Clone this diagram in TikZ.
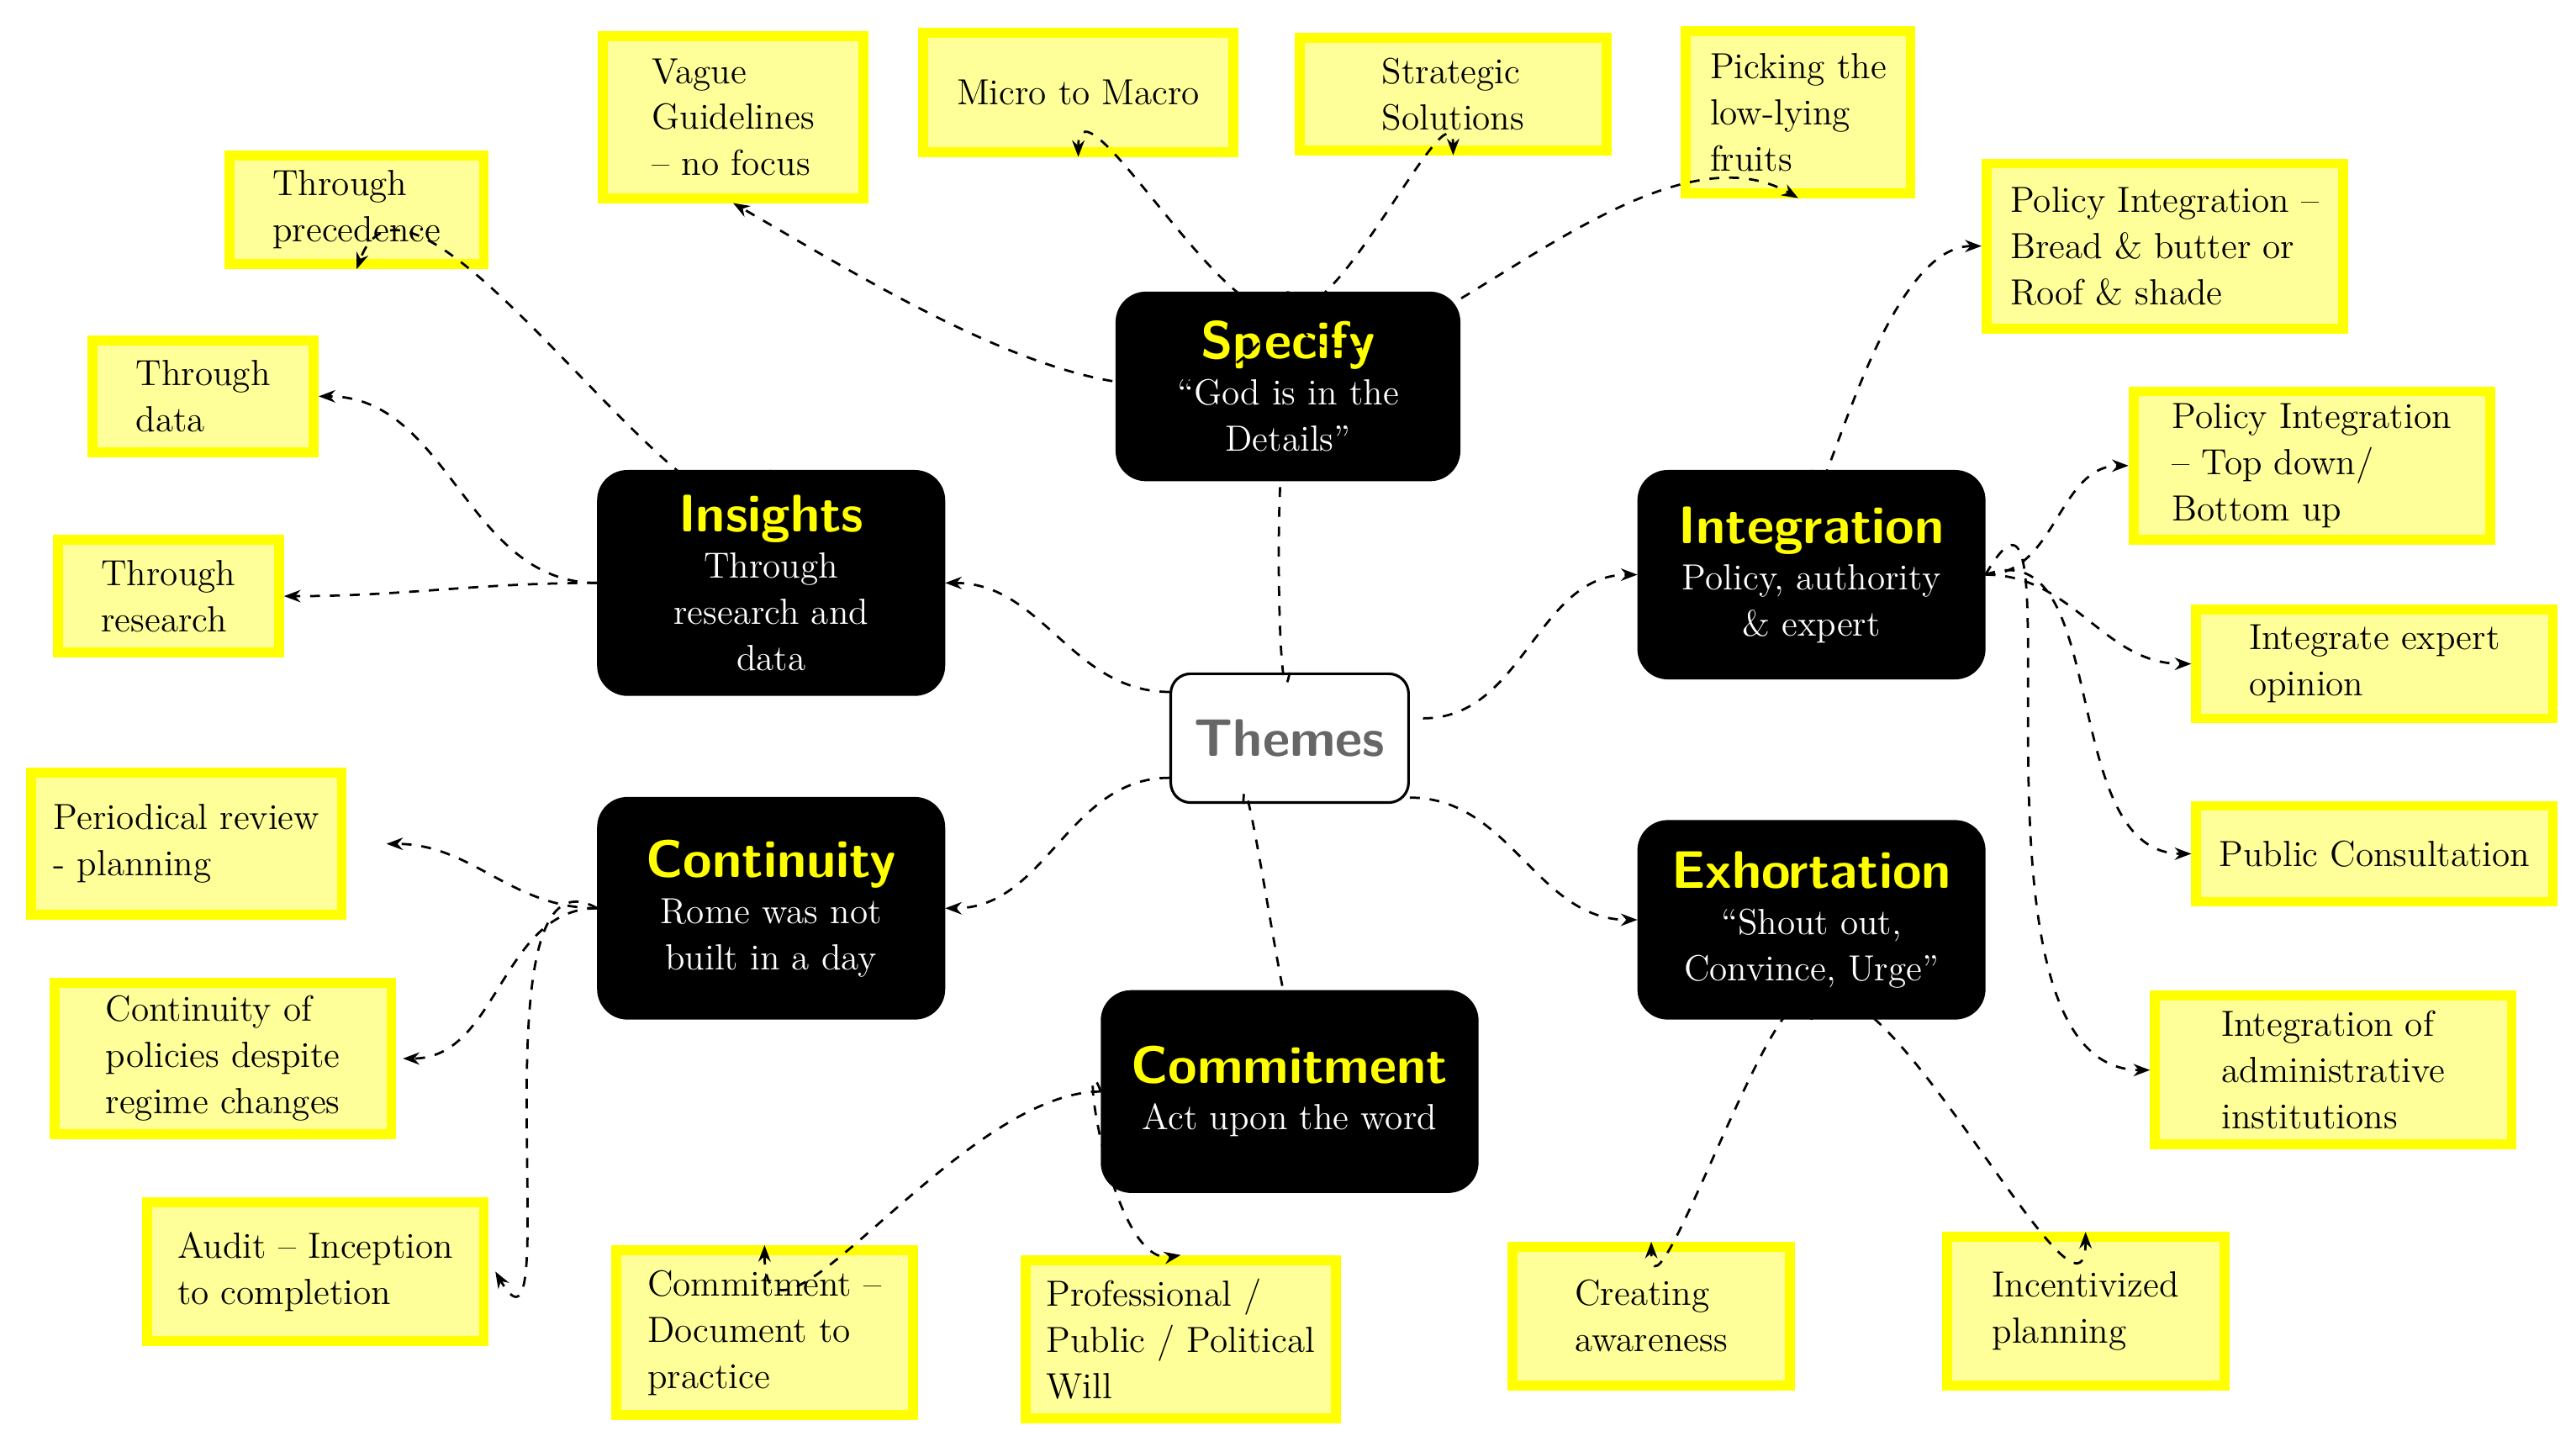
\documentclass[tikz,border=0pt]{standalone}
\usetikzlibrary{arrows.meta}
\definecolor{ylight}{HTML}{FFFF99}
\definecolor{yedge}{HTML}{FFFF00}
\tikzset{
  theme/.style={draw=black,fill=black,rounded corners=9pt,align=center,text=white,
    font=\fontsize{11}{14}\selectfont,inner sep=2pt},
  ybox/.style={draw=yedge,line width=3pt,fill=ylight,align=left,
    font=\fontsize{11}{14}\selectfont,inner sep=2pt},
  link/.style={dashed,line width=0.7pt,-{Stealth[length=5pt]}},
}
\newcommand{\ttl}[1]{{\color{yedge}\fontsize{16}{19}\selectfont\sffamily\bfseries #1}\\}
\begin{document}
\begin{tikzpicture}[x=0.5pt,y=0.5pt,yscale=-1]
\useasboundingbox (0,0) rectangle (1560,879);

% centre
\node[draw,rounded corners=6pt,line width=0.8pt,minimum width=72pt,minimum height=39pt,
  text=black!60,font=\fontsize{16}{19}\selectfont\sffamily\bfseries] (themes) at (781,447) {Themes};

% themes
\node[theme,minimum width=104pt,minimum height=57pt] (spec) at (780,234) {\ttl{Specify}``God is in the\\Details''};
\node[theme,minimum width=105pt,minimum height=68pt] (ins) at (467,353) {\ttl{Insights}Through\\research and\\data};
\node[theme,minimum width=105pt,minimum height=63pt] (integ) at (1097,348) {\ttl{Integration}Policy, authority\\\& expert};
\node[theme,minimum width=105pt,minimum height=67pt] (cont) at (467,550) {\ttl{Continuity}Rome was not\\built in a day};
\node[theme,minimum width=105pt,minimum height=60pt] (exh) at (1097,557) {\ttl{Exhortation}``Shout out,\\Convince, Urge''};
\node[theme,minimum width=114pt,minimum height=61pt] (com) at (781,661) {\ttl{Commitment}Act upon the word};

% yellow boxes
\node[ybox,minimum width=79pt,minimum height=49pt] (vague) at (444,71) {Vague\\Guidelines\\-- no focus};
\node[ybox,minimum width=94pt,minimum height=36pt] (micro) at (653,56) {Micro to Macro};
\node[ybox,minimum width=93pt,minimum height=34pt] (strat) at (880,57) {Strategic\\Solutions};
\node[ybox,minimum width=68pt,minimum height=49pt] (pick) at (1089,68) {Picking the\\low-lying\\fruits};
\node[ybox,minimum width=77pt,minimum height=33pt] (prec) at (216,127) {Through\\precedence};
\node[ybox,minimum width=67pt,minimum height=34pt] (data) at (123,240) {Through\\data};
\node[ybox,minimum width=67pt,minimum height=34pt] (res) at (102,361) {Through\\research};
\node[ybox,minimum width=94pt,minimum height=43pt] (period) at (113,511) {Periodical review\\- planning};
\node[ybox,minimum width=102pt,minimum height=46pt] (policies) at (135,641) {Continuity of\\policies despite\\regime changes};
\node[ybox,minimum width=102pt,minimum height=42pt] (audit) at (191,770) {Audit -- Inception\\to completion};
\node[ybox,minimum width=90pt,minimum height=50pt] (cdoc) at (463,807) {Commitment --\\Document to\\practice};
\node[ybox,minimum width=94pt,minimum height=48pt] (prof) at (715,811) {Professional /\\Public / Political\\Will};
\node[ybox,minimum width=84pt,minimum height=42pt] (aware) at (1000,797) {Creating\\awareness};
\node[ybox,minimum width=84pt,minimum height=45pt] (incent) at (1263,794) {Incentivized\\planning};
\node[ybox,minimum width=108pt,minimum height=50pt] (bread) at (1311,149) {Policy Integration --\\Bread \& butter or\\Roof \& shade};
\node[ybox,minimum width=108pt,minimum height=45pt] (topdown) at (1400,282) {Policy Integration\\-- Top down/\\Bottom up};
\node[ybox,minimum width=108pt,minimum height=33pt] (expert) at (1438,402) {Integrate expert\\opinion};
\node[ybox,minimum width=108pt,minimum height=29pt] (public) at (1438,517) {Public Consultation};
\node[ybox,minimum width=108pt,minimum height=45pt] (admin) at (1413,648) {Integration of\\administrative\\institutions};

% connectors from the centre
\draw[link] (themes.north) to[out=100,in=-100] (spec.south);
\draw[link] (themes.west) ++(0,-28) to[out=180,in=0] (ins.east);
\draw[link] (themes.east) ++(8,-12) to[out=0,in=180] (integ.west);
\draw[link] (themes.west) ++(0,24) to[out=180,in=0] (cont.east);
\draw[link] (themes.east) ++(0,36) to[out=0,in=180] (exh.west);
\draw[link] (themes.south) ++(-28,0) to[out=-90,in=90] (com.north);

% specify
\draw[link] (spec.north) to[out=110,in=30] (vague.south);
\draw[link] (spec.north) to[out=110,in=-90] (micro.south);
\draw[link] (spec.north) to[out=70,in=-90] (strat.south);
\draw[link] (spec.north) to[out=80,in=-150] (pick.south);

% insights
\draw[link] (ins.north) to[out=100,in=-70] (prec.south);
\draw[link] (ins.west) to[out=180,in=0] (data.east);
\draw[link] (ins.west) to[out=180,in=0] (res.east);

% continuity
\draw[link] (cont.west) to[out=180,in=0] ([xshift=12pt]period.east);
\draw[link] (cont.west) to[out=180,in=0] ([xshift=2pt]policies.east);
\draw[link] (cont.west) to[out=-150,in=60] ([xshift=2pt]audit.east);

% commitment
\draw[link] (com.west) to[out=180,in=90] (cdoc.north);
\draw[link] (com.west) to[out=-110,in=170] (prof.north);

% exhortation
\draw[link] (exh.south) to[out=-100,in=90] (aware.north);
\draw[link] (exh.south) to[out=-70,in=90] (incent.north);

% integration
\draw[link] (integ.north) to[out=90,in=180] (bread.west);
\draw[link] (integ.east) to[out=0,in=180] (topdown.west);
\draw[link] (integ.east) to[out=0,in=180] (expert.west);
\draw[link] (integ.east) to[out=-20,in=180] (public.west);
\draw[link] (integ.east) to[out=-60,in=180] (admin.west);
\end{tikzpicture}
\end{document}
